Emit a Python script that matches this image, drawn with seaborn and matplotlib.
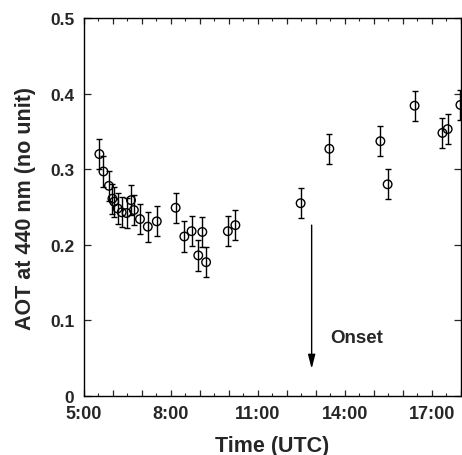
import matplotlib
matplotlib.use("Agg")
import matplotlib.pyplot as plt
import seaborn as sns
import pandas as pd
from matplotlib.ticker import MultipleLocator, FuncFormatter

# Data (time in decimal hours UTC, AOT at 440 nm, error)
time_h = [5.53, 5.67, 5.86, 5.98, 6.04, 6.16, 6.30, 6.47, 6.62, 6.72, 6.93,
          7.20, 7.51, 8.16, 8.46, 8.71, 8.94, 9.08, 9.21, 9.96, 10.22,
          12.47, 13.46, 15.22, 15.47, 16.40, 17.36, 17.54, 17.98]
aot = [0.320, 0.297, 0.278, 0.261, 0.257, 0.248, 0.243, 0.242, 0.259, 0.246, 0.234,
       0.224, 0.231, 0.249, 0.211, 0.218, 0.186, 0.217, 0.177, 0.218, 0.226,
       0.255, 0.327, 0.337, 0.280, 0.384, 0.348, 0.353, 0.385]
aot_err = [0.02] * len(aot)

xtick_labels = ["5:00", "8:00", "11:00", "14:00", "17:00"]
onset_time = 12.85

df = pd.DataFrame({"time": time_h, "aot": aot, "err": aot_err})

sns.set_theme(style="ticks")
plt.rcParams["font.family"] = ["Liberation Sans", "DejaVu Sans"]
plt.rcParams["font.weight"] = "bold"

fig = plt.figure(figsize=(4.62, 4.56), dpi=100)
ax = fig.add_axes([84/462, 1-397/456, (461-84)/462, (397-19)/456])

ax.errorbar(df["time"], df["aot"], yerr=df["err"], fmt="none", ecolor="black",
            elinewidth=1.0, capsize=2.4, capthick=1.0, zorder=2)
sns.scatterplot(data=df, x="time", y="aot", ax=ax, marker="o", s=38,
                facecolors="none", edgecolor="black", linewidth=1.0, zorder=3,
                legend=False)

ax.annotate("", xy=(onset_time, 0.036), xytext=(onset_time, 0.226),
            arrowprops=dict(arrowstyle="-|>,head_length=0.7,head_width=0.18",
                            lw=1.0, color="black", shrinkA=0, shrinkB=0))
ax.text(13.49, 0.078, "Onset", fontsize=13.5, fontweight="bold", ha="left", va="center")

ax.set_xlim(5, 18)
ax.set_ylim(0, 0.5)

ax.xaxis.set_major_locator(MultipleLocator(1))
ax.xaxis.set_minor_locator(MultipleLocator(0.5))
lab_map = {5: xtick_labels[0], 8: xtick_labels[1], 11: xtick_labels[2],
           14: xtick_labels[3], 17: xtick_labels[4]}
ax.xaxis.set_major_formatter(FuncFormatter(lambda v, p: lab_map.get(int(round(v)), "") if abs(v - round(v)) < 1e-6 else ""))
ax.yaxis.set_major_locator(MultipleLocator(0.1))
ax.yaxis.set_major_formatter(FuncFormatter(lambda v, p: "0" if abs(v) < 1e-9 else f"{v:.1f}"))

ax.tick_params(axis="x", which="major", direction="in", length=4, width=0.9,
               top=True, bottom=True, labelsize=13, pad=6.5)
ax.tick_params(axis="x", which="minor", direction="in", length=2, width=0.8,
               top=True, bottom=True)
ax.tick_params(axis="y", which="major", direction="in", length=5, width=0.9,
               left=True, right=True, labelsize=12.5, pad=7)
for lab in ax.get_xticklabels() + ax.get_yticklabels():
    lab.set_fontweight("bold")

for s in ax.spines.values():
    s.set_visible(True)
    s.set_linewidth(1.0)
    s.set_color("black")

ax.set_xlabel("Time (UTC)", fontsize=15.5, fontweight="bold", labelpad=9)
ax.set_ylabel("AOT at 440 nm (no unit)", fontsize=15.5, fontweight="bold", labelpad=10)

fig.savefig("out.png", dpi=100)
